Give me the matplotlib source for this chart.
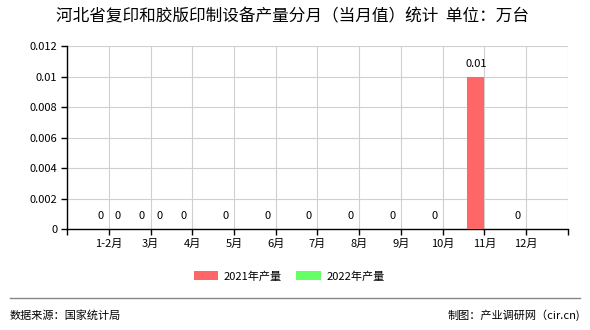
import numpy as np
import matplotlib.pyplot as plt

plt.rcParams['font.family'] = ['Noto Sans CJK SC', 'DejaVu Sans']

months = ['1-2月', '3月', '4月', '5月', '6月', '7月', '8月', '9月', '10月', '11月', '12月']
val_2021 = [0, 0, 0, 0, 0, 0, 0, 0, 0, 0.01, 0]
val_2022 = [0, 0]
yticks = [0, 0.002, 0.004, 0.006, 0.008, 0.01, 0.012]
ytick_labels = ['0', '0.002', '0.004', '0.006', '0.008', '0.01', '0.012']

fig = plt.figure(figsize=(5.9, 3.3), dpi=100)
ax = fig.add_axes([0.1136, 0.306, 0.849, 0.5545])

x = np.arange(1, len(months) + 1)
w = 0.41
ax.bar(x[:len(val_2021)] - w / 2, val_2021, width=w, color='#ff6666', label='2021年产量', zorder=3)
ax.bar(x[:len(val_2022)] + w / 2, val_2022, width=w, color='#66ff66', label='2022年产量', zorder=3)

for xi, v in zip(x, val_2021):
    ax.text(xi - w / 2, v + 0.0005, '{:g}'.format(v), ha='center', va='bottom', fontsize=8)
for xi, v in zip(x, val_2022):
    ax.text(xi + w / 2, v + 0.0005, '{:g}'.format(v), ha='center', va='bottom', fontsize=8)

ax.set_xlim(0, 12)
ax.set_ylim(0, 0.012)
ax.set_xticks(np.arange(0, 13))
ax.set_xticklabels([''] + months + [''], fontsize=8)
ax.set_yticks(yticks)
ax.set_yticklabels(ytick_labels, fontsize=8)
ax.tick_params(length=4, width=1, color='black', pad=3)
ax.grid(True, color='#d0d0d0', linewidth=0.8, zorder=0)
for s in ['top', 'right']:
    ax.spines[s].set_visible(False)
for s in ['left', 'bottom']:
    ax.spines[s].set_color('black')
    ax.spines[s].set_linewidth(1)

fig.text(0.495, 0.948, '河北省复印和胶版印制设备产量分月（当月值）统计  单位：万台',
         ha='center', va='center', fontsize=12)
fig.legend(loc='center', bbox_to_anchor=(0.49, 0.163), ncol=2, frameon=False,
           fontsize=8, handlelength=2.2, handleheight=0.9, columnspacing=1.3,
           handletextpad=0.5)

fig.add_artist(plt.Line2D([0.017, 0.983], [0.097, 0.097], color='#888888', linewidth=1))
fig.text(0.017, 0.045, '数据来源：国家统计局', ha='left', va='center', fontsize=8)
fig.text(0.983, 0.045, '制图：产业调研网（cir.cn)', ha='right', va='center', fontsize=8)

fig.savefig('out.png', dpi=100)
